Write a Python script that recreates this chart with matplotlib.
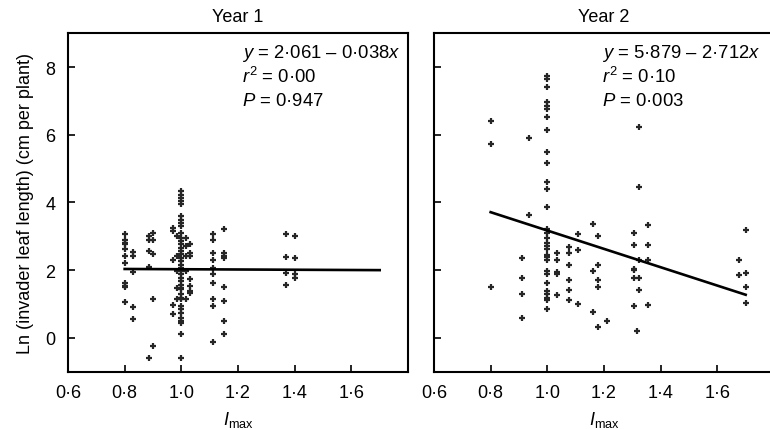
import matplotlib.pyplot as plt

plt.rcParams['font.family'] = ['Liberation Sans', 'DejaVu Sans']
plt.rcParams['mathtext.fontset'] = 'custom'
plt.rcParams['mathtext.rm'] = 'Liberation Sans'
plt.rcParams['mathtext.it'] = 'Liberation Sans:italic'

# Year 1: x positions (Imax) and ln leaf length values at each x
year1_x = [0.80, 0.83, 0.885, 0.90, 0.97, 1.00, 0.985, 1.015, 1.03, 1.11, 1.15, 1.37, 1.40]
year1_y = [
    [3.05, 2.90, 2.80, 2.78, 2.63, 2.41, 2.21, 1.62, 1.53, 1.50, 1.05],
    [2.53, 2.41, 1.94, 0.91, 0.56],
    [3.00, 2.88, 2.56, 2.10, -0.59],
    [3.08, 2.90, 2.46, 1.13, -0.25],
    [3.25, 3.15, 2.31, 0.98, 0.71],
    [4.33, 4.23, 4.13, 4.03, 3.94, 3.59, 3.49, 3.39, 3.30, 3.10, 2.95, 2.85, 2.76,
     2.66, 2.56, 2.46, 2.36, 2.26, 2.16, 2.07, 1.97, 1.87, 1.77, 1.67, 1.57, 1.48,
     1.43, 1.28, 1.18, 1.13, 0.94, 0.84, 0.74, 0.59, 0.49, 0.44, 0.10, -0.59],
    [3.00, 2.41, 1.97, 1.48, 1.13],
    [2.95, 2.71, 2.41, 1.97, 1.13],
    [2.76, 2.49, 2.41, 1.74, 1.53, 1.38, 1.33],
    [3.05, 2.90, 2.49, 2.31, 2.07, 1.87, 1.62, 1.15, 0.94, -0.13],
    [3.20, 2.49, 2.41, 2.36, 1.50, 1.08, 0.49, 0.10],
    [3.05, 2.39, 1.92, 1.55],
    [3.02, 2.36, 1.87, 1.77],
]

# Year 2
year2_x = [0.80, 0.909, 0.935, 1.00, 1.035, 1.075, 1.11, 1.16, 1.18, 1.21, 1.306,
           1.315, 1.325, 1.357, 1.677, 1.70]
year2_y = [
    [6.40, 5.71, 1.51],
    [2.36, 1.77, 1.30, 0.59],
    [5.91, 3.62],
    [7.73, 7.65, 7.41, 6.96, 6.86, 6.76, 6.53, 6.13, 5.48, 5.15, 4.60, 4.40, 3.87,
     3.20, 3.10, 2.95, 2.80, 2.71, 2.61, 2.43, 2.38, 2.29, 1.97, 1.87, 1.62, 1.38,
     1.28, 1.18, 1.11, 0.84],
    [2.49, 2.31, 1.94, 1.87, 1.26],
    [2.69, 2.51, 2.15, 1.70, 1.41, 1.11],
    [3.05, 2.59, 1.01],
    [3.35, 1.97, 0.76],
    [3.00, 2.16, 1.70, 1.51, 0.31],
    [0.49],
    [3.08, 2.73, 2.04, 2.00, 1.77, 0.94],
    [0.20],
    [6.23, 4.46, 2.31, 1.77, 1.40],
    [3.32, 2.73, 2.31, 0.98],
    [2.29, 1.85],
    [3.17, 1.92, 1.51, 1.03],
]

# regression fits (intercept, slope) and stats
fits = [(2.061, -0.038), (5.879, -2.712)]
fit_range = [0.8, 1.7]
eq_labels = ['$y$ = 2·061 – 0·038$x$', '$y$ = 5·879 – 2·712$x$']
r2_labels = ['$r^2$ = 0·00', '$r^2$ = 0·10']
p_labels = ['$P$ = 0·947', '$P$ = 0·003']
titles = ['Year 1', 'Year 2']

xticks = [0.6, 0.8, 1.0, 1.2, 1.4, 1.6]
xtick_labels = ['0·6', '0·8', '1·0', '1·2', '1·4', '1·6']
yticks = [0, 2, 4, 6, 8]

fig = plt.figure(figsize=(7.7, 4.31), dpi=100)
ax1 = fig.add_axes([0.0883, 0.1357, 0.4416, 0.785])
ax2 = fig.add_axes([0.5636, 0.1357, 0.4416, 0.785])

panels = [(ax1, year1_x, year1_y), (ax2, year2_x, year2_y)]
text_x = [0.512, 0.493]

for i, (ax, xs, ys) in enumerate(panels):
    px, py = [], []
    for x, col in zip(xs, ys):
        for v in col:
            px.append(x)
            py.append(v)
    ax.plot(px, py, linestyle='none', marker='+', markersize=4.5,
            markeredgewidth=1.6, color='#262626')
    a, b = fits[i]
    ax.plot(fit_range, [a + b * fit_range[0], a + b * fit_range[1]],
            color='black', linewidth=1.9)

    ax.set_xlim(0.6, 1.8)
    ax.set_ylim(-1, 9)
    ax.set_xticks(xticks)
    ax.set_xticklabels(xtick_labels)
    ax.set_yticks(yticks)
    ax.tick_params(direction='in', length=5, width=1.2, labelsize=13, pad=9)
    for s in ax.spines.values():
        s.set_linewidth(1.5)
    ax.set_title(titles[i], fontsize=13, pad=9)
    ax.set_xlabel(r'$I_{\mathrm{max}}$', fontsize=13, labelpad=6)

    ax.text(text_x[i], 0.929, eq_labels[i], transform=ax.transAxes,
            fontsize=13.3, ha='left', va='baseline')
    ax.text(text_x[i], 0.855, r2_labels[i], transform=ax.transAxes,
            fontsize=13.3, ha='left', va='baseline')
    ax.text(text_x[i], 0.787, p_labels[i], transform=ax.transAxes,
            fontsize=13.3, ha='left', va='baseline')

ax2.tick_params(labelleft=False)
ax1.set_ylabel('Ln (invader leaf length) (cm per plant)', fontsize=13, labelpad=8)

fig.savefig('out.png', dpi=100)
